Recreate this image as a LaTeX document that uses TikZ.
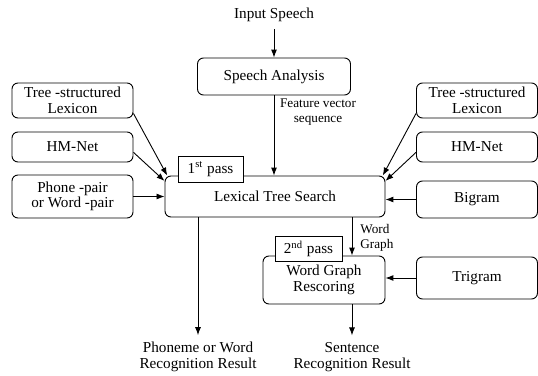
\documentclass[tikz,border=0pt]{standalone}
\usepackage{fontspec}
\setmainfont{Liberation Serif}
\usetikzlibrary{arrows.meta,positioning}

\begin{document}
\begin{tikzpicture}[x=0.5pt, y=-0.5pt, line width=0.45pt,
  font=\fontsize{7.6}{7.8}\selectfont,
  >={Latex[length=4pt,width=3pt]},
  box/.style={rectangle, draw, rounded corners=3pt, align=center, inner sep=1pt},
  sidebox/.style={box, minimum width=60.5pt},
  passtag/.style={rectangle, draw, fill=white, inner sep=1pt},
  linklabel/.style={inner sep=0pt, font=\fontsize{6.6}{7.2}\selectfont}]
\useasboundingbox (0,0) rectangle (538,376);

% centre column
\node (in) at (274,15) {Input Speech};
\node (sa) [box, minimum width=76.5pt, minimum height=18.5pt] at (274,76.5) {Speech Analysis};
\node (fv) [linklabel, align=center] at (318,112) {Feature vector\\sequence};
\node (lts) [box, minimum width=110pt, minimum height=20.5pt] at (275,196.5) {Lexical Tree Search};
\node (pass1) [passtag, minimum width=32.5pt, minimum height=13pt] at (210.5,169) {1\textsuperscript{st} pass};
\node (wgr) [box, minimum width=61pt, minimum height=24pt] at (324,280) {Word Graph\\Rescoring};
\node (pass2) [passtag, minimum width=33.5pt, minimum height=12.5pt] at (308.5,249) {2\textsuperscript{nd} pass};
\node (wg) [linklabel, anchor=west, align=left] at (360,238) {Word\\Graph};
\coordinate (wgx) at (352,0);

% left knowledge sources
\node (ltsl) [sidebox, minimum height=17.5pt] at (72.5,100.5) {Tree -structured\\Lexicon};
\node (lhm) [sidebox, minimum height=15pt] at (72.5,147) {HM-Net};
\node (lpp) [sidebox, minimum height=21.5pt] at (72.5,196.5) {Phone -pair\\or Word -pair};

% right knowledge sources
\node (rtsl) [sidebox, minimum height=17.5pt] at (477,100.5) {Tree -structured\\Lexicon};
\node (rhm) [sidebox, minimum height=15pt] at (477,147) {HM-Net};
\node (big) [sidebox, minimum height=18.5pt] at (477,199.5) {Bigram};
\node (tri) [sidebox, minimum height=21pt] at (477,278) {Trigram};

% results
\node (pho) [align=center] at (198,357) {Phoneme or Word\\Recognition Result};
\node (sen) [align=center] at (352,357) {Sentence\\Recognition Result};

\draw [->] (in.south) -- (in.south |- sa.north);
\draw [->] (sa.south) -- (sa.south |- lts.north);
\draw [->] (ltsl.-12) -- (lts.169);
\draw [->] (lhm.-5) -- (lts.172);
\draw [->] (lpp.east) -- (lpp.east -| lts.west);
\draw [->] (rtsl.192) -- (lts.11);
\draw [->] (rhm.185) -- (lts.8);
\draw [->] (big.west) -- (big.west -| lts.east);
\draw [->] (lts.south -| wgx) -- (wgr.north -| wgx);
\draw [->] (tri.west) -- (tri.west -| wgr.east);
\draw [->] (lts.south -| pho.north) -- (pho.north);
\draw [->] (wgr.south -| sen.north) -- (sen.north);
\end{tikzpicture}
\end{document}
